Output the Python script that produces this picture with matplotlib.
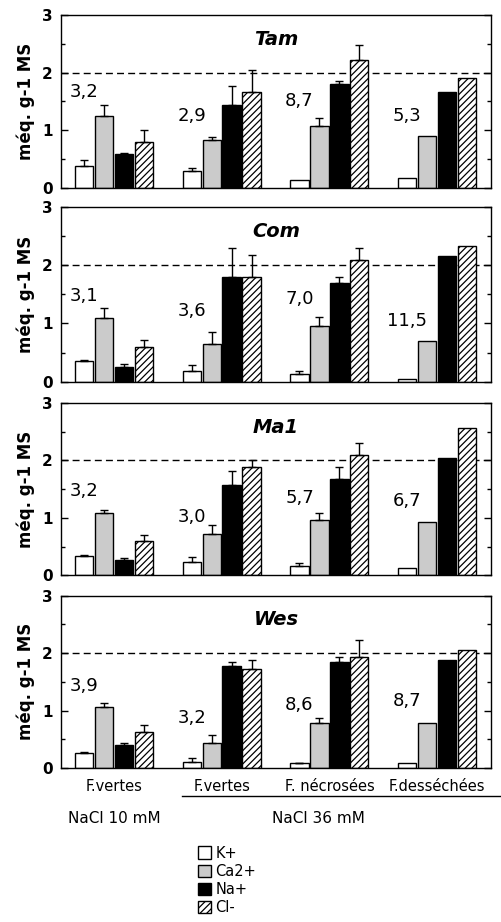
import numpy as np
import matplotlib
matplotlib.use('Agg')
import matplotlib.pyplot as plt
from matplotlib.patches import Patch
from matplotlib.ticker import MultipleLocator

plt.rcParams['font.family'] = ['DejaVu Sans']
plt.rcParams['hatch.linewidth'] = 0.9

groups = ['F.vertes', 'F.vertes', 'F. nécrosées', 'F.desséchées']
ions = ['K+', 'Ca2+', 'Na+', 'Cl-']
cultivars = ['Tam', 'Com', 'Ma1', 'Wes']

# mean values (méq. g-1 MS), one list per ion, per cultivar
tam_k = [0.39, 0.29, 0.14, 0.17]
tam_ca = [1.24, 0.84, 1.08, 0.91]
tam_na = [0.59, 1.44, 1.80, 1.66]
tam_cl = [0.79, 1.66, 2.21, 1.90]
tam_k_err = [0.10, 0.06, 0, 0]
tam_ca_err = [0.19, 0.05, 0.14, 0]
tam_na_err = [0.01, 0.32, 0.05, 0]
tam_cl_err = [0.21, 0.38, 0.27, 0]
tam_ratio = ['3,2', '2,9', '8,7', '5,3']
tam_ratio_y = [1.66, 1.24, 1.50, 1.24]

com_k = [0.35, 0.19, 0.14, 0.05]
com_ca = [1.09, 0.65, 0.95, 0.69]
com_na = [0.26, 1.79, 1.69, 2.16]
com_cl = [0.60, 1.79, 2.08, 2.32]
com_k_err = [0.03, 0.09, 0.05, 0]
com_ca_err = [0.17, 0.20, 0.16, 0]
com_na_err = [0.05, 0.50, 0.10, 0]
com_cl_err = [0.11, 0.38, 0.21, 0]
com_ratio = ['3,1', '3,6', '7,0', '11,5']
com_ratio_y = [1.46, 1.21, 1.41, 1.04]

ma1_k = [0.33, 0.23, 0.16, 0.12]
ma1_ca = [1.08, 0.72, 0.96, 0.92]
ma1_na = [0.26, 1.58, 1.68, 2.04]
ma1_cl = [0.60, 1.88, 2.09, 2.57]
ma1_k_err = [0.02, 0.09, 0.06, 0]
ma1_ca_err = [0.06, 0.16, 0.12, 0]
ma1_na_err = [0.04, 0.23, 0.20, 0]
ma1_cl_err = [0.11, 0.12, 0.21, 0]
ma1_ratio = ['3,2', '3,0', '5,7', '6,7']
ma1_ratio_y = [1.46, 1.02, 1.35, 1.29]

wes_k = [0.27, 0.11, 0.08, 0.09]
wes_ca = [1.07, 0.43, 0.78, 0.79]
wes_na = [0.40, 1.78, 1.84, 1.88]
wes_cl = [0.63, 1.72, 1.93, 2.05]
wes_k_err = [0.01, 0.06, 0.01, 0]
wes_ca_err = [0.06, 0.15, 0.09, 0]
wes_na_err = [0.04, 0.07, 0.10, 0]
wes_cl_err = [0.12, 0.16, 0.29, 0]
wes_ratio = ['3,9', '3,2', '8,6', '8,7']
wes_ratio_y = [1.42, 0.87, 1.10, 1.16]

panels = [
    ('Tam', [tam_k, tam_ca, tam_na, tam_cl], [tam_k_err, tam_ca_err, tam_na_err, tam_cl_err], tam_ratio, tam_ratio_y),
    ('Com', [com_k, com_ca, com_na, com_cl], [com_k_err, com_ca_err, com_na_err, com_cl_err], com_ratio, com_ratio_y),
    ('Ma1', [ma1_k, ma1_ca, ma1_na, ma1_cl], [ma1_k_err, ma1_ca_err, ma1_na_err, ma1_cl_err], ma1_ratio, ma1_ratio_y),
    ('Wes', [wes_k, wes_ca, wes_na, wes_cl], [wes_k_err, wes_ca_err, wes_na_err, wes_cl_err], wes_ratio, wes_ratio_y),
]

# bar styles
styles = [
    dict(facecolor='white', hatch=None),
    dict(facecolor='#cbcbcb', hatch=None),
    dict(facecolor='black', hatch=None),
    dict(facecolor='white', hatch='/////'),
]

fig = plt.figure(figsize=(5.01, 9.22), dpi=100)

# axes boxes in figure fraction [left, bottom, width, height]
boxes = [
    [0.122, 0.796, 0.858, 0.188],
    [0.122, 0.586, 0.858, 0.190],
    [0.122, 0.376, 0.858, 0.187],
    [0.122, 0.167, 0.858, 0.187],
]

x = np.arange(len(groups))
w = 0.185

for k, (name, vals, errs, ratio, ratio_y) in enumerate(panels):
    ax = fig.add_axes(boxes[k])
    for j in range(4):
        pos = x + (j - 1.5) * w
        ax.bar(pos, vals[j], width=w * 0.92, edgecolor='black', linewidth=1.0,
               zorder=2, **styles[j])
        e = np.array(errs[j])
        m = e > 0
        ax.errorbar(pos[m], np.array(vals[j])[m], yerr=[np.zeros(m.sum()), e[m]],
                    fmt='none', ecolor='black', elinewidth=1.0, capsize=3,
                    capthick=1.0, zorder=3)
    # K/Na ratio labels
    for i in range(len(groups)):
        ax.text(x[i] - 1.5 * w, ratio_y[i], ratio[i], ha='center', va='center',
                fontsize=13, zorder=4)
    ax.axhline(2, color='black', linestyle=(0, (5, 3)), linewidth=1.0, zorder=1)
    ax.text(0.5, 0.86, name, transform=ax.transAxes, ha='center', va='center',
            fontsize=14, fontweight='bold', fontstyle='italic')
    ax.set_xlim(-0.49, 3.5)
    ax.set_ylim(0, 3)
    ax.yaxis.set_major_locator(MultipleLocator(1))
    ax.yaxis.set_minor_locator(MultipleLocator(0.5))
    ax.tick_params(axis='y', which='both', direction='in', right=True,
                   labelsize=11, width=1.0)
    ax.tick_params(axis='y', which='major', length=5, pad=6)
    ax.tick_params(axis='y', which='minor', length=3)
    for lab in ax.get_yticklabels():
        lab.set_fontweight('bold')
    ax.set_xticks([])
    ax.set_ylabel('méq. g-1 MS', fontsize=12, fontweight='bold', labelpad=5)
    for s in ax.spines.values():
        s.set_linewidth(1.0)

    if k == 3:
        ax.set_xticks(x)
        ax.set_xticklabels(groups, fontsize=10.5)
        ax.tick_params(axis='x', length=0, pad=8)

# bottom treatment labels
ax_last = fig.axes[-1]
trans = ax_last.get_xaxis_transform()
ax_last.plot([0.63, 3.75], [-0.165, -0.165], transform=trans, color='black',
             linewidth=1.0, clip_on=False)
ax_last.text(0, -0.29, 'NaCl 10 mM', transform=trans, ha='center', va='center',
             fontsize=11)
ax_last.text(1.9, -0.29, 'NaCl 36 mM', transform=trans, ha='center', va='center',
             fontsize=11)

handles = [Patch(edgecolor='black', linewidth=1.0, **styles[j]) for j in range(4)]
fig.legend(handles, ions, loc='upper left', bbox_to_anchor=(0.375, 0.094),
           frameon=False, fontsize=10.5, handlelength=0.9, handleheight=0.9,
           handletextpad=0.3, labelspacing=0.22, borderpad=0.2)

fig.savefig('out.png', dpi=100)
